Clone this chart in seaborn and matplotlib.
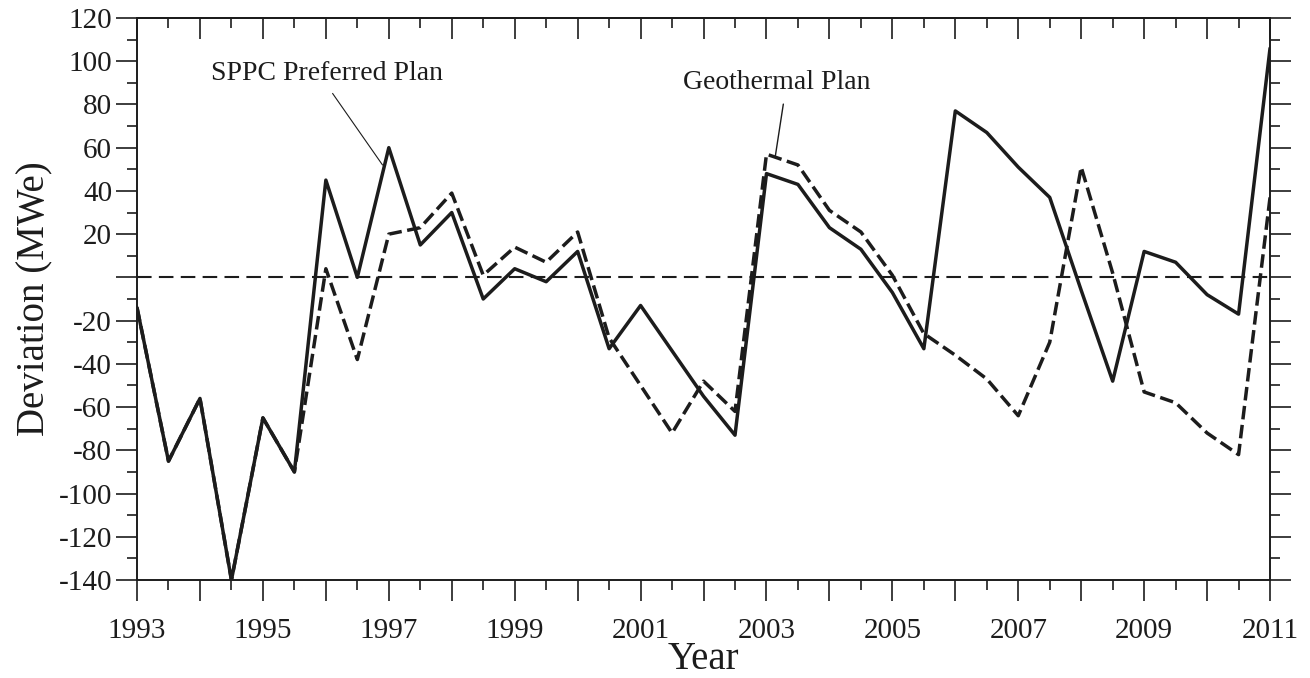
import numpy as np
import pandas as pd
import seaborn as sns
import matplotlib
matplotlib.use("Agg")
import matplotlib.pyplot as plt
from matplotlib.ticker import MultipleLocator, FuncFormatter

# half-year steps, 1993 .. 2011
years = [1993.0, 1993.5, 1994.0, 1994.5, 1995.0, 1995.5, 1996.0, 1996.5, 1997.0, 1997.5,
         1998.0, 1998.5, 1999.0, 1999.5, 2000.0, 2000.5, 2001.0, 2001.5, 2002.0, 2002.5,
         2003.0, 2003.5, 2004.0, 2004.5, 2005.0, 2005.5, 2006.0, 2006.5, 2007.0, 2007.5,
         2008.0, 2008.5, 2009.0, 2009.5, 2010.0, 2010.5, 2011.0]

sppc = [-14, -85, -56, -140, -65, -90, 45, 0, 60, 15,
        30, -10, 4, -2, 12, -33, -13, -34, -55, -73,
        48, 43, 23, 13, -7, -33, 77, 67, 51, 37,
        -6, -48, 12, 7, -8, -17, 106]

geothermal = [-14, -85, -56, -140, -65, -90, 4, -38, 20, 23,
              39, 1, 14, 7, 21, -28, -50, -72, -48, -62,
              57, 52, 31, 21, 1, -26, -36, -47, -64, -30,
              51, 2, -53, -58, -72, -82, 37]

plans = ["Geothermal Plan", "SPPC Preferred Plan"]

df = pd.concat([
    pd.DataFrame({"year": years, "deviation": geothermal, "plan": plans[0]}),
    pd.DataFrame({"year": years, "deviation": sppc, "plan": plans[1]}),
])

sns.set_style("ticks")
plt.rcParams["font.family"] = ["Liberation Serif", "DejaVu Serif"]
ink = "#1c1c1c"

fig, ax = plt.subplots(figsize=(13.1, 6.78), dpi=100)
fig.subplots_adjust(left=0.1046, right=0.9695, top=0.9735, bottom=0.1445)

ax.axhline(0, color=ink, lw=1.5, dashes=(7, 3.5), zorder=1)

sns.lineplot(data=df, x="year", y="deviation", style="plan", style_order=plans,
             dashes={plans[0]: (3.9, 1.6), plans[1]: ""},
             color=ink, lw=2.5, legend=False, ax=ax, zorder=3)

ax.set_xlim(1993, 2011)
ax.set_ylim(-140, 120)

ax.xaxis.set_major_locator(MultipleLocator(1))
ax.xaxis.set_minor_locator(MultipleLocator(0.5))
ax.xaxis.set_major_formatter(FuncFormatter(
    lambda v, p: f"{int(round(v))}" if int(round(v)) % 2 == 1 else ""))
ax.yaxis.set_major_locator(MultipleLocator(20))
ax.yaxis.set_minor_locator(MultipleLocator(10))
ax.yaxis.set_major_formatter(FuncFormatter(
    lambda v, p: "" if abs(v) < 1e-9 else f"{int(round(v))}"))

ax.tick_params(which="major", direction="out", length=15, width=1.2,
               color=ink, labelsize=21, labelcolor=ink)
ax.tick_params(which="minor", direction="out", length=7, width=1.2, color=ink)
ax.tick_params(axis="y", which="both", left=True, right=True)
ax.tick_params(axis="y", which="major", pad=3)
ax.tick_params(axis="x", which="major", pad=12)

# top axis ticks point inwards
secx = ax.secondary_xaxis("top")
secx.xaxis.set_major_locator(MultipleLocator(1))
secx.xaxis.set_minor_locator(MultipleLocator(0.5))
secx.tick_params(which="major", direction="in", length=15, width=1.2,
                 color=ink, labeltop=False)
secx.tick_params(which="minor", direction="in", length=7, width=1.2, color=ink)
secx.spines["top"].set_linewidth(1.4)
secx.spines["top"].set_color(ink)

for s in ax.spines.values():
    s.set_linewidth(1.4)
    s.set_color(ink)

ax.set_xlabel("Year", fontsize=28, color=ink, labelpad=-2)
ax.set_ylabel("Deviation (MWe)", fontsize=28, color=ink, labelpad=4)

ax.annotate("SPPC Preferred Plan", xy=(1996.9, 52), xytext=(1996.02, 94.5),
            fontsize=20, color=ink, ha="center", va="center",
            arrowprops=dict(arrowstyle="-", lw=0.8, color=ink,
                            relpos=(0.5, 0), shrinkA=4, shrinkB=0))
ax.annotate("Geothermal Plan", xy=(2003.14, 56), xytext=(2003.17, 90),
            fontsize=20, color=ink, ha="center", va="center",
            arrowprops=dict(arrowstyle="-", lw=1.0, color=ink,
                            relpos=(0.54, 0), shrinkA=4, shrinkB=0))

fig.savefig("out.png", dpi=100, facecolor="white")
